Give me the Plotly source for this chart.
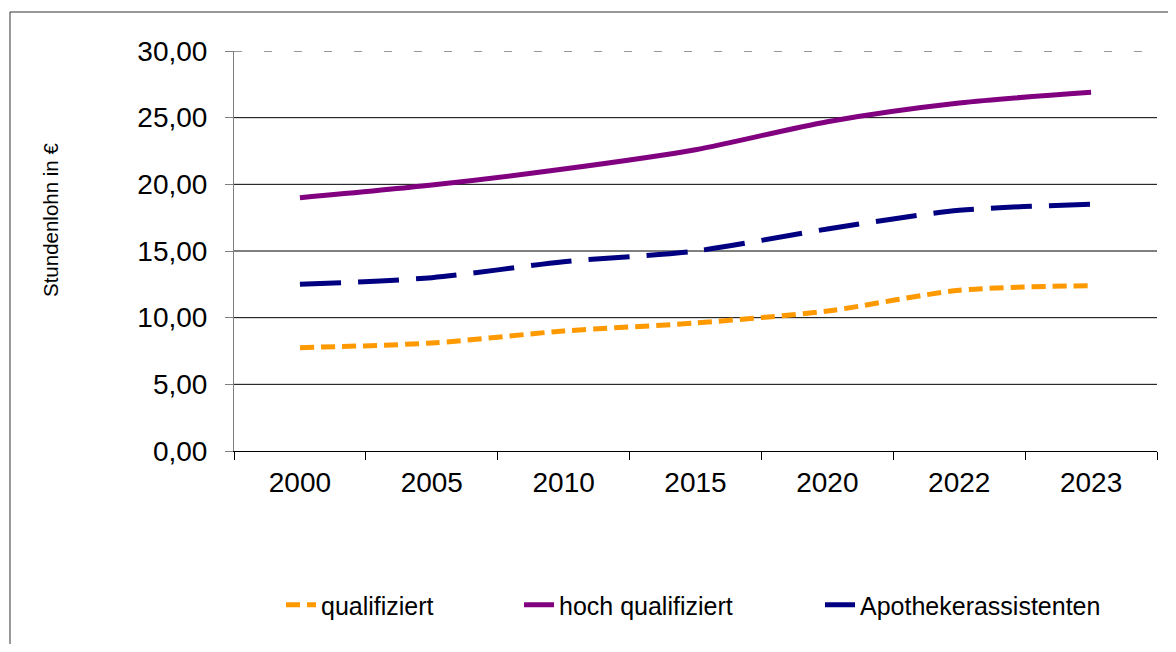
import plotly.graph_objects as go

years = ["2000", "2005", "2010", "2015", "2020", "2022", "2023"]
qualifiziert = [7.75, 8.1, 9.0, 9.6, 10.5, 12.05, 12.4]
hoch_qualifiziert = [19.0, 19.95, 21.15, 22.6, 24.7, 26.1, 26.9]
apotheker = [12.5, 13.0, 14.2, 15.0, 16.65, 18.05, 18.5]
y_ticks = [0, 5, 10, 15, 20, 25, 30]

FONT = "Arial, Liberation Sans, sans-serif"

fig = go.Figure()
fig.add_trace(go.Scatter(x=years, y=qualifiziert, name="qualifiziert", mode="lines",
                         line=dict(color="#FF9900", width=5, dash="14px,7px", shape="spline", smoothing=0.8),
                         legend="legend"))
fig.add_trace(go.Scatter(x=years, y=hoch_qualifiziert, name="hoch qualifiziert", mode="lines",
                         line=dict(color="#800080", width=5, shape="spline", smoothing=0.8),
                         legend="legend2"))
fig.add_trace(go.Scatter(x=years, y=apotheker, name="Apothekerassistenten", mode="lines",
                         line=dict(color="#000080", width=5, dash="41px,17px", shape="spline", smoothing=0.8),
                         legend="legend3"))

# gridlines
for v in y_ticks[1:-1]:
    fig.add_shape(type="line", xref="paper", yref="y", x0=0, x1=1, y0=v, y1=v,
                  line=dict(color="#000000", width=1), layer="below")
fig.add_shape(type="line", xref="paper", yref="y", x0=0, x1=1, y0=y_ticks[-1], y1=y_ticks[-1],
              line=dict(color="#333333", width=1, dash="8px,22px"), layer="below")

# outer chart frame
fig.add_shape(type="rect", xref="paper", yref="paper", x0=-0.2427, x1=1.03, y0=1.0975, y1=-0.53,
              line=dict(color="#333333", width=1), fillcolor="rgba(0,0,0,0)", layer="below")

# y-axis title
fig.add_annotation(text="Stundenlohn in €", xref="paper", yref="paper", x=-0.1993, y=0.5775,
                   textangle=-90, showarrow=False, xanchor="center", yanchor="middle",
                   font=dict(family=FONT, size=20.5, color="#000000"))

legend_common = dict(orientation="h", yanchor="middle", y=-0.385, xanchor="left",
                     font=dict(family=FONT, size=25, color="#000000"), bgcolor="rgba(0,0,0,0)")
fig.update_layout(
    autosize=True,
    margin=dict(l=226, r=11, t=43, b=193),
    paper_bgcolor="white", plot_bgcolor="white",
    separators=",.",
    font=dict(family=FONT, color="#000000"),
    showlegend=True,
    legend=dict(x=(281 - 234) / 923, **legend_common),
    legend2=dict(x=(519 - 234) / 923, **legend_common),
    legend3=dict(x=(820 - 234) / 923, **legend_common),
    xaxis=dict(type="category", showgrid=False, showline=True, linecolor="#000000", linewidth=1,
               ticks="outside", tickson="boundaries", ticklen=8, tickcolor="#000000",
               tickfont=dict(family=FONT, size=28, color="#000000"), range=[-0.5, 6.5],
               ticklabelstandoff=6),
    yaxis=dict(range=[0, 30], tickvals=y_ticks, tickformat=".2f", showgrid=False, zeroline=False,
               showline=True, linecolor="#808080", linewidth=1, ticks="outside", ticklen=8,
               tickcolor="#808080", tickfont=dict(family=FONT, size=28, color="#000000"),
               ticklabelstandoff=12),
)

fig.write_html("out.html")
